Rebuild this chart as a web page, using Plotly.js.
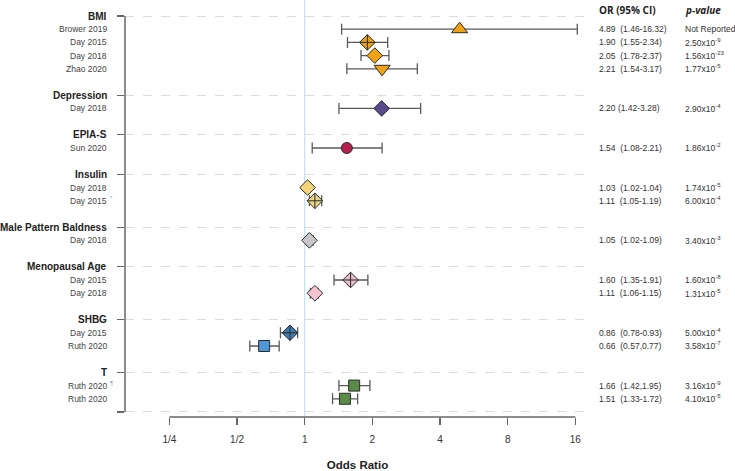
<!DOCTYPE html>
<html>
<head>
<meta charset="utf-8">
<script src="https://cdn.plot.ly/plotly-3.0.1.min.js"></script>
<style>html,body{margin:0;padding:0;background:#fff}#chart{width:735px;height:471px}</style>
</head>
<body>
<div id="chart"></div>
<script>
// ---- data ----
const groups = ["BMI", "Depression", "EPIA-S", "Insulin", "Male Pattern Baldness", "Menopausal Age", "SHBG", "T"];
const studyGroup = ["BMI","BMI","BMI","BMI","Depression","EPIA-S","Insulin","Insulin","Male Pattern Baldness","Menopausal Age","Menopausal Age","SHBG","SHBG","T","T"];
const studyName = ["Brower 2019","Day 2015","Day 2018","Zhao 2020","Day 2018","Sun 2020","Day 2018","Day 2015","Day 2018","Day 2015","Day 2018","Day 2015","Ruth 2020","Ruth 2020","Ruth 2020"];
const studyNote = ["","","","","","","","*","","","","","","¶",""];
const orVals = [4.89, 1.90, 2.05, 2.21, 2.20, 1.54, 1.03, 1.11, 1.05, 1.60, 1.11, 0.86, 0.66, 1.66, 1.51];
const ciLow  = [1.46, 1.55, 1.78, 1.54, 1.42, 1.08, 1.02, 1.05, 1.02, 1.35, 1.06, 0.78, 0.57, 1.42, 1.33];
const ciHigh = [16.32, 2.34, 2.37, 3.17, 3.28, 2.21, 1.04, 1.19, 1.09, 1.91, 1.15, 0.93, 0.77, 1.95, 1.72];
const ciText = ["4.89  (1.46-16.32)","1.90  (1.55-2.34)","2.05  (1.78-2.37)","2.21  (1.54-3.17)","2.20 (1.42-3.28)","1.54  (1.08-2.21)","1.03  (1.02-1.04)","1.11  (1.05-1.19)","1.05  (1.02-1.09)","1.60  (1.35-1.91)","1.11  (1.06-1.15)","0.86  (0.78-0.93)","0.66  (0.57,0.77)","1.66  (1.42,1.95)","1.51  (1.33-1.72)"];
const pMant = ["Not Reported","2.50","1.56","1.77","2.90","1.86","1.74","6.00","3.40","1.60","1.31","5.00","3.58","3.16","4.10"];
const pExp  = [null,-9,-23,-5,-4,-2,-5,-4,-3,-8,-5,-4,-7,-9,-5];
const xTickVals = [0.25, 0.5, 1, 2, 4, 8, 16];
const xTickText = ["1/4", "1/2", "1", "2", "4", "8", "16"];

// ---- styles (per study) ----
const mSymbol = ["triangle-up","diamond-cross","diamond","triangle-down","diamond","circle","diamond","diamond-cross","diamond","diamond-cross","diamond","diamond-cross","square","square","square"];
const mColor = ["#F2A314","#E8A01E","#F2A314","#F2A314","#5B4A8B","#B5214F","#F2D479","#EAD384","#C8C8C8","#E6BCCB","#F6C3D2","#3E79B0","#4F98D8","#5A8C47","#5A8C47"];
const mSize = [14,12,12,14,12,11,12,12,12,12,12,12,11,11,11];

// ---- row layout ----
const groupRow = {};
const studyRow = [];
let r = 0;
groups.forEach(g => {
  groupRow[g] = r; r++;
  studyGroup.forEach((sg, i) => { if (sg === g) { studyRow[i] = r; r++; } });
  r++;
});
const lastRow = r - 1;

const fontFam = "Liberation Sans, Arial, sans-serif";
const trace = {
  type: "scatter", mode: "markers",
  x: orVals, y: studyRow,
  marker: {symbol: mSymbol, color: mColor, size: mSize, opacity: 1, line: {color: "#2b2b2b", width: 1}},
  error_x: {type: "data", symmetric: false,
    array: orVals.map((v, i) => ciHigh[i] - v),
    arrayminus: orVals.map((v, i) => v - ciLow[i]),
    color: "#5a5a5a", thickness: 1.3, width: 5.5},
  hoverinfo: "skip", showlegend: false
};

const ann = [];
groups.forEach(g => ann.push({xref: "paper", yref: "y", x: 0, y: groupRow[g], xanchor: "right", yanchor: "middle", xshift: -16,
  text: "<b>" + g + "</b>", showarrow: false, font: {family: fontFam, size: 10, color: "#222"}}));
studyName.forEach((s, i) => {
  ann.push({xref: "paper", yref: "y", x: 0, y: studyRow[i], xanchor: "right", yanchor: "middle", xshift: -16,
    text: s, showarrow: false, font: {family: fontFam, size: 8.5, color: "#444"}});
  if (studyNote[i]) ann.push({xref: "paper", yref: "y", x: 0, y: studyRow[i], xanchor: "left", yanchor: "middle", xshift: -17, yshift: 3,
    text: studyNote[i], showarrow: false, font: {family: fontFam, size: 6, color: "#6fa6cc"}});
  ann.push({xref: "paper", yref: "y", x: 1.015, y: studyRow[i], xanchor: "left", yanchor: "middle",
    text: ciText[i].replace(/  /g, "\u00a0\u00a0"), showarrow: false, font: {family: fontFam, size: 8.5, color: "#333"}});
  ann.push({xref: "paper", yref: "y", x: 1.2, y: studyRow[i], xanchor: "left", yanchor: "middle",
    text: pExp[i] === null ? pMant[i] : pMant[i] + "x10<sup>" + pExp[i] + "</sup>", showarrow: false, font: {family: fontFam, size: 8.5, color: "#333"}});
});
ann.push({xref: "paper", yref: "paper", x: 1.015, y: 1.0, xanchor: "left", yanchor: "middle",
  text: "<b>OR (95% CI)</b>", showarrow: false, font: {family: "Open Sans, Arial, sans-serif", size: 10, color: "#222"}});
ann.push({xref: "paper", yref: "paper", x: 1.2, y: 1.0, xanchor: "left", yanchor: "middle",
  text: "<b><i>p-value</i></b>", showarrow: false, font: {family: "Open Sans, Arial, sans-serif", size: 10, color: "#222"}});

const shapes = [
  {type: "line", xref: "x", yref: "paper", x0: 1, x1: 1, y0: 0, y1: 1.03, line: {color: "#b5dcef", width: 1}, layer: "below"},
  {type: "line", xref: "paper", yref: "y", x0: 0, x1: 0, y0: 0, y1: lastRow, line: {color: "#666", width: 1.5}},
  {type: "line", xref: "x", yref: "paper", x0: 0.25, x1: 16, y0: 0, y1: 0, line: {color: "#666", width: 1.5}}
];

const layout = {
  width: 735, height: 471,
  margin: {l: 125, r: 145, t: 10, b: 54},
  paper_bgcolor: "#fff", plot_bgcolor: "#fff",
  xaxis: {type: "log", range: [-0.7994, 1.2692], tickvals: xTickVals, ticktext: xTickText,
    showline: false, showgrid: false, zeroline: false, ticks: "outside", ticklen: 7, tickwidth: 1.3, tickcolor: "#666",
    ticklabelstandoff: 6,
    tickfont: {family: fontFam, size: 10, color: "#333"},
    title: {text: "<b>Odds Ratio</b>", standoff: 20, font: {family: fontFam, size: 11.5, color: "#222"}}},
  yaxis: {range: [lastRow + 0.38, -0.4545], tickvals: groups.map(g => groupRow[g]).concat([lastRow]),
    showticklabels: false, ticks: "outside", ticklen: 7, tickwidth: 1.3, tickcolor: "#666",
    showgrid: true, gridcolor: "#dcdcdc", griddash: "dash", gridwidth: 1, zeroline: false, showline: false},
  annotations: ann, shapes: shapes
};
Plotly.newPlot("chart", [trace], layout, {displayModeBar: false, staticPlot: true});
</script>
</body>
</html>
